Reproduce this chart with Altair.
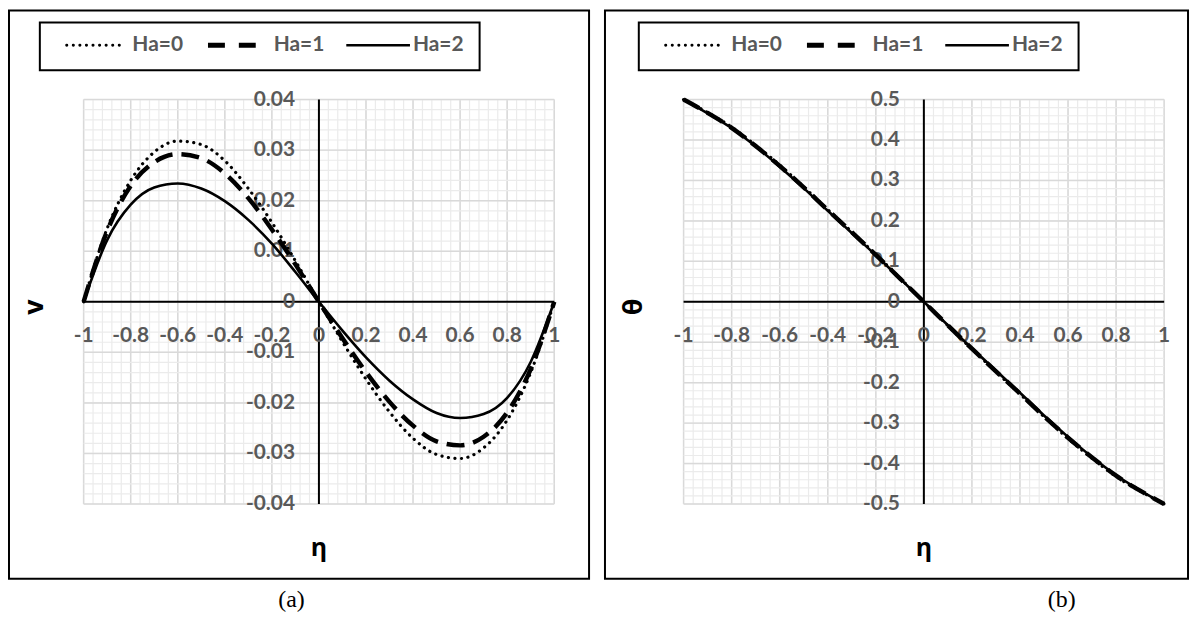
import altair as alt
import pandas as pd
import numpy as np

# ---------------- data ----------------
eta = [-1.0, -0.9, -0.8, -0.7, -0.6, -0.5, -0.4, -0.3, -0.2, -0.1, 0.0,
       0.1, 0.2, 0.3, 0.4, 0.5, 0.6, 0.7, 0.8, 0.9, 1.0]

v_ha0 = [0.0, 0.0145, 0.0240, 0.0296, 0.0318, 0.0311, 0.0279, 0.0224, 0.0157, 0.0081, 0.0,
         -0.0079, -0.0153, -0.0218, -0.0270, -0.0302, -0.0310, -0.0289, -0.0234, -0.0140, 0.0]
v_ha1 = [0.0, 0.0140, 0.0229, 0.0276, 0.0292, 0.0284, 0.0254, 0.0205, 0.0143, 0.0074, 0.0,
         -0.0072, -0.0139, -0.0198, -0.0245, -0.0276, -0.0284, -0.0267, -0.0219, -0.0133, 0.0]
v_ha2 = [0.0, 0.0122, 0.0192, 0.0226, 0.0234, 0.0224, 0.0199, 0.0162, 0.0115, 0.0059, 0.0,
         -0.0057, -0.0110, -0.0156, -0.0193, -0.0220, -0.0230, -0.0222, -0.0190, -0.0119, 0.0]

theta_ha0 = [0.500, 0.468, 0.432, 0.387, 0.338, 0.284, 0.228, 0.173, 0.117, 0.059, 0.0,
             -0.059, -0.117, -0.173, -0.228, -0.284, -0.338, -0.387, -0.432, -0.468, -0.500]
theta_ha1 = [0.500, 0.467, 0.430, 0.385, 0.336, 0.283, 0.227, 0.172, 0.116, 0.058, 0.0,
             -0.058, -0.116, -0.172, -0.227, -0.283, -0.336, -0.385, -0.430, -0.467, -0.500]
theta_ha2 = [0.500, 0.466, 0.429, 0.384, 0.334, 0.281, 0.225, 0.170, 0.115, 0.058, 0.0,
             -0.058, -0.115, -0.170, -0.225, -0.281, -0.334, -0.384, -0.429, -0.466, -0.500]

series_names = ["Ha=0", "Ha=1", "Ha=2"]

x_ticks = [-1.0, -0.8, -0.6, -0.4, -0.2, 0.0, 0.2, 0.4, 0.6, 0.8, 1.0]
x_tick_labels = ["-1", "-0.8", "-0.6", "-0.4", "-0.2", "0", "0.2", "0.4", "0.6", "0.8", "1"]

va_ticks = [0.04, 0.03, 0.02, 0.01, 0.0, -0.01, -0.02, -0.03, -0.04]
va_tick_labels = ["0.04", "0.03", "0.02", "0.01", "0", "-0.01", "-0.02", "-0.03", "-0.04"]

vb_ticks = [0.5, 0.4, 0.3, 0.2, 0.1, 0.0, -0.1, -0.2, -0.3, -0.4, -0.5]
vb_tick_labels = ["0.5", "0.4", "0.3", "0.2", "0.1", "0", "-0.1", "-0.2", "-0.3", "-0.4", "-0.5"]

# ---------------- styling ----------------
TICK_FONT = "Lato"
TITLE_FONT = "Open Sans"
GRAY = "#595959"
MINOR = "#ebebeb"
MAJOR = "#d9d9d9"
one = pd.DataFrame({"a": [0]})

STYLES = [
    dict(strokeDash=[0.1, 6.5], strokeCap="round", strokeWidth=3.2),
    dict(strokeDash=[18, 9], strokeCap="butt", strokeWidth=4.5),
    dict(strokeWidth=2.6),
]
LEG_STYLES = [
    dict(strokeDash=[0.1, 6.5], strokeCap="round", strokeWidth=3),
    dict(strokeDash=[17, 14], strokeCap="butt", strokeWidth=5),
    dict(strokeWidth=2.5),
]


def panel(ox, xrange, ydom, ytick_vals, ytick_labs, ydata, ytitle, minor_y, caption, cap_x):
    xs = alt.Scale(domain=[-1, 1], range=xrange, zero=False, nice=False)
    ys = alt.Scale(domain=ydom, range=[497, 90.5], zero=False, nice=False)
    ymin, ymax = ydom
    layers = []

    # grid
    minor_x = pd.DataFrame({"g": np.round(np.arange(-1, 1.0001, 0.04), 4)})
    minor_yv = pd.DataFrame({"g": np.round(np.arange(ymin, ymax + minor_y / 10, minor_y), 6)})
    major_x = pd.DataFrame({"g": x_ticks})
    major_y = pd.DataFrame({"g": ytick_vals})
    for df, col, w in [(minor_x, MINOR, 1.2), (major_x, MAJOR, 1.5)]:
        layers.append(alt.Chart(df).mark_rule(color=col, strokeWidth=w).encode(
            x=alt.X("g:Q", scale=xs, axis=None),
            y=alt.YDatum(ymin, type="quantitative", scale=ys, axis=None),
            y2=alt.Y2Datum(ymax)))
    for df, col, w in [(minor_yv, MINOR, 1.2), (major_y, MAJOR, 1.5)]:
        layers.append(alt.Chart(df).mark_rule(color=col, strokeWidth=w).encode(
            y=alt.Y("g:Q", scale=ys, axis=None),
            x=alt.XDatum(-1, type="quantitative", scale=xs, axis=None),
            x2=alt.X2Datum(1)))

    # axis lines through zero
    layers.append(alt.Chart(one).mark_rule(color="black", strokeWidth=2).encode(
        y=alt.YDatum(0, type="quantitative", scale=ys, axis=None),
        x=alt.XDatum(-1, type="quantitative", scale=xs, axis=None),
        x2=alt.X2Datum(1)))
    layers.append(alt.Chart(one).mark_rule(color="black", strokeWidth=2).encode(
        x=alt.XDatum(0, type="quantitative", scale=xs, axis=None),
        y=alt.YDatum(ymin, type="quantitative", scale=ys, axis=None),
        y2=alt.Y2Datum(ymax)))

    # tick labels
    xt = pd.DataFrame({"t": x_ticks, "lab": x_tick_labels})
    layers.append(alt.Chart(xt).mark_text(
        font=TICK_FONT, fontWeight="bold", fontSize=21, color=GRAY,
        align="center", baseline="middle", dy=34).encode(
        x=alt.X("t:Q", scale=xs, axis=None),
        y=alt.YDatum(0, type="quantitative", scale=ys, axis=None),
        text="lab:N"))
    yt = pd.DataFrame({"t": ytick_vals, "lab": ytick_labs})
    layers.append(alt.Chart(yt).mark_text(
        font=TICK_FONT, fontWeight="bold", fontSize=21, color=GRAY,
        align="right", baseline="middle", dx=-24).encode(
        y=alt.Y("t:Q", scale=ys, axis=None),
        x=alt.XDatum(0, type="quantitative", scale=xs, axis=None),
        text="lab:N"))

    # curves
    for name, vals, st in zip(series_names, ydata, STYLES):
        df = pd.DataFrame({"eta": eta, "val": vals, "series": name})
        layers.append(alt.Chart(df).mark_line(color="black", interpolate="monotone", **st).encode(
            x=alt.X("eta:Q", scale=xs, axis=None),
            y=alt.Y("val:Q", scale=ys, axis=None),
            detail="series:N"))

    # axis titles
    layers.append(alt.Chart(one).mark_text(
        text="η", font=TITLE_FONT, fontWeight="bold", fontSize=25, color="black",
        align="center", baseline="middle").encode(
        x=alt.XDatum(0, type="quantitative", scale=xs, axis=None),
        y=alt.value(541)))
    layers.append(alt.Chart(one).mark_text(
        text=ytitle, font=TITLE_FONT, fontWeight="bold", fontSize=27, color="black",
        align="center", baseline="middle", angle=270).encode(
        x=alt.value(ox + 27), y=alt.value(299)))

    # outer box
    layers.append(alt.Chart(one).mark_rect(fill="transparent", stroke="black", strokeWidth=2).encode(
        x=alt.value(max(ox - 2, 1)), x2=alt.value(ox + 584), y=alt.value(1), y2=alt.value(572)))

    # legend
    lx = ox + 32
    layers.append(alt.Chart(one).mark_rect(fill="white", stroke="black", strokeWidth=2).encode(
        x=alt.value(lx), x2=alt.value(lx + 442), y=alt.value(13), y2=alt.value(61)))
    seg = [(27, 85, 93), (169, 218, 235), (308, 372, 375)]
    for name, st, (a, b, tx) in zip(series_names, LEG_STYLES, seg):
        layers.append(alt.Chart(one).mark_rule(color="black", **st).encode(
            x=alt.value(lx + a), x2=alt.value(lx + b), y=alt.value(36)))
        layers.append(alt.Chart(one).mark_text(
            text=name, font=TICK_FONT, fontWeight="bold", fontSize=21, color=GRAY,
            align="left", baseline="middle").encode(
            x=alt.value(lx + tx), y=alt.value(36)))

    # caption
    layers.append(alt.Chart(one).mark_text(
        text=caption, font="Liberation Serif", fontSize=24, color="black",
        align="center", baseline="middle").encode(
        x=alt.value(cap_x), y=alt.value(594)))

    return alt.layer(*layers)


pa = panel(0, [76, 549], [-0.04, 0.04], va_ticks, va_tick_labels,
           [v_ha0, v_ha1, v_ha2], "v", 0.002, "(a)", 285)
pb = panel(602, [679, 1162], [-0.5, 0.5], vb_ticks, vb_tick_labels,
           [theta_ha0, theta_ha1, theta_ha2], "θ", 0.02, "(b)", 1059)

chart = alt.layer(pa, pb).resolve_scale(x="independent", y="independent").properties(
    width=1190, height=604, padding=0,
    autosize=alt.AutoSizeParams(type="none"),
).configure_view(stroke=None)

chart.save("out.html", embed_options={"renderer": "svg", "actions": False})
